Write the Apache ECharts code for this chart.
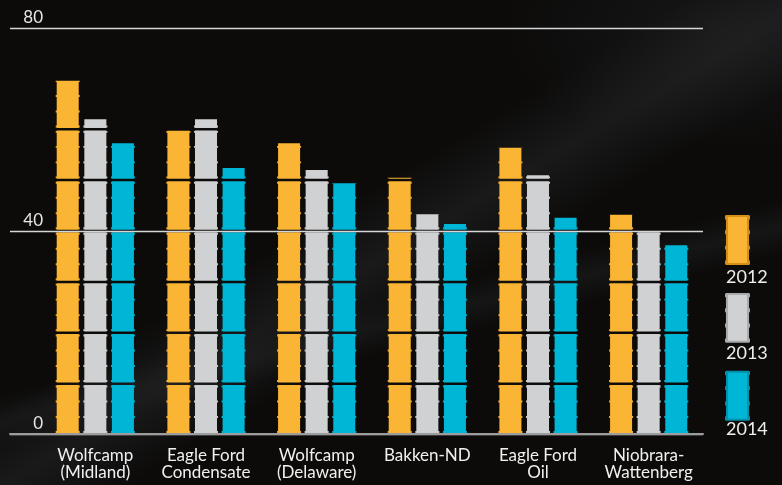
<!DOCTYPE html>
<html>
<head>
<meta charset="utf-8">
<script src="https://cdn.jsdelivr.net/npm/echarts@6/dist/echarts.min.js"></script>
<style>
html,body{margin:0;padding:0;}
body{width:782px;height:485px;overflow:hidden;
background:
 linear-gradient(166deg, rgba(0,0,0,0) 58%, rgba(38,38,40,0.4) 62%, rgba(0,0,0,0) 66%),
 linear-gradient(149deg, rgba(0,0,0,0) 43%, rgba(40,40,42,0.5) 51%, rgba(0,0,0,0) 59%),
 radial-gradient(ellipse 220px 120px at 720px 30px, rgba(40,40,44,0.4), rgba(0,0,0,0)),
 #0c0b0a;}
#chart{width:782px;height:485px;}
</style>
</head>
<body>
<div id="chart"></div>
<script>
const categories = ['Wolfcamp\n(Midland)', 'Eagle Ford\nCondensate', 'Wolfcamp\n(Delaware)', 'Bakken-ND', 'Eagle Ford\nOil', 'Niobrara-\nWattenberg'];
const seriesNames = ['2012', '2013', '2014'];
const values2012 = [69.6, 59.8, 57.3, 50.5, 56.4, 43.2];
const values2013 = [62.0, 62.0, 52.0, 43.3, 51.0, 40.0];
const values2014 = [57.3, 52.4, 49.4, 41.4, 42.6, 37.2];
const yTicks = { min: 0, max: 80, interval: 40 };

const colors = ['#fbb534', '#d0d1d3', '#00b6d6'];
const borders = ['#d48e1a', '#a9aaac', '#0090ab'];

// barrel shape: body with small rim bumps on both sides
const barrel = 'path://M1 0H23V50H1Z' +
  'M0 0.5H1V2.5H0Z M23 0.5H24V2.5H23Z' +
  'M0 16H1V18H0Z M23 16H24V18H23Z' +
  'M0 32H1V34H0Z M23 32H24V34H23Z' +
  'M0 47.5H1V49.5H0Z M23 47.5H24V49.5H23Z';

const allValues = [values2012, values2013, values2014];
const series = seriesNames.map((name, i) => ({
  name: name,
  type: 'pictorialBar',
  xAxisIndex: 1,
  yAxisIndex: 1,
  symbol: barrel,
  symbolRepeat: 8,
  symbolSize: [24, 48.4],
  symbolMargin: 1,
  symbolClip: true,
  symbolBoundingData: yTicks.max,
  barWidth: 24,
  barGap: '15%',
  itemStyle: { color: colors[i], borderColor: borders[i], borderWidth: 0.8 },
  data: allValues[i],
  z: 2
}));

// legend layout: icon column with year label beneath each icon
const legendLeft = 725, legendTop = 215, legendStep = 76, legendIconH = 48;
const legendTexts = seriesNames.map((name, i) => ({
  type: 'text',
  left: legendLeft + 1,
  top: legendTop + i * legendStep + legendIconH + 5,
  style: { text: name, fill: '#eeeeee', font: '18px Lato' },
  silent: true
}));

const chart = echarts.init(document.getElementById('chart'), null, { renderer: 'canvas' });
chart.setOption({
  backgroundColor: 'transparent',
  animation: false,
  textStyle: { fontFamily: 'Lato' },
  grid: [
    { left: 10, right: 79, top: 28, bottom: 51 },
    { left: 40, right: 78, top: 28, bottom: 51 }
  ],
  legend: {
    orient: 'vertical',
    left: legendLeft,
    top: legendTop,
    padding: 0,
    itemWidth: 23,
    itemHeight: legendIconH,
    itemGap: legendStep - legendIconH,
    icon: barrel,
    selectedMode: false,
    data: seriesNames,
    formatter: () => '',
    textStyle: { fontSize: 1 }
  },
  graphic: legendTexts,
  xAxis: [
    { type: 'category', gridIndex: 0, data: categories,
      axisLine: { show: true, lineStyle: { color: '#9c9c9c', width: 2 } },
      axisTick: { show: false }, axisLabel: { show: false }, splitLine: { show: false }, z: 10 },
    { type: 'category', gridIndex: 1, data: categories,
      axisLine: { show: false }, axisTick: { show: false },
      axisLabel: { color: '#f0f0f0', fontSize: 17, lineHeight: 17, margin: 13, fontFamily: 'Lato', interval: 0 } }
  ],
  yAxis: [
    { type: 'value', gridIndex: 0, min: yTicks.min, max: yTicks.max, interval: yTicks.interval,
      axisLine: { show: false }, axisTick: { show: false },
      splitLine: { show: true, lineStyle: { color: '#d6d6d6', width: 1.3 } },
      axisLabel: { inside: true, margin: 33, align: 'right', verticalAlign: 'bottom', padding: [0, 0, 2, 0],
        color: '#e6e6e6', fontSize: 17, fontFamily: 'Lato' },
      z: 10 },
    { type: 'value', gridIndex: 1, min: yTicks.min, max: yTicks.max, show: false }
  ],
  series: series
});
</script>
</body>
</html>
